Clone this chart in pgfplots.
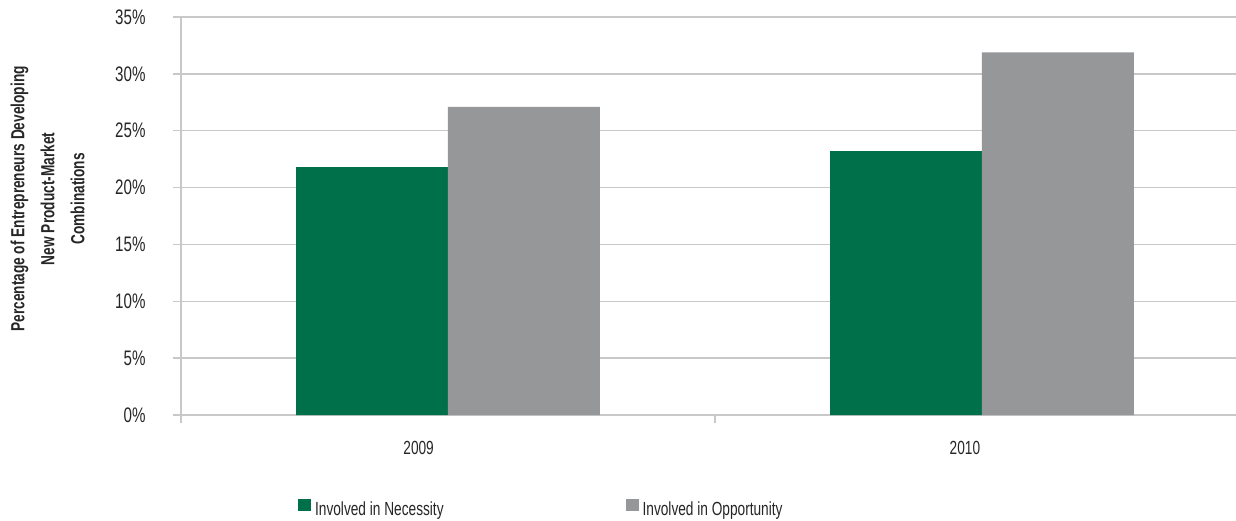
\documentclass[border=0pt]{standalone}
\usepackage{fontspec}
\setmainfont{Liberation Sans}[FakeStretch=0.72]
\usepackage{pgfplots}
\pgfplotsset{compat=1.18}
\definecolor{necgreen}{RGB}{0,112,74}
\definecolor{oppgray}{RGB}{150,151,153}
\definecolor{gridgray}{RGB}{200,200,200}
\begin{document}
\begin{tikzpicture}
\path[use as bounding box] (-181pt,-105pt) rectangle (1055pt,415pt);
\begin{axis}[
  at={(0pt,0pt)}, anchor=south west,
  scale only axis, width=1055pt, height=398pt,
  xmin=0, xmax=1.9757, ymin=0, ymax=35,
  axis x line*=bottom, axis y line*=left,
  axis line style={gridgray, line width=1.3pt, -},
  ytick={0,5,10,15,20,25,30,35},
  yticklabels={0\%,5\%,10\%,15\%,20\%,25\%,30\%,35\%},
  ymajorgrids, grid style={gridgray, line width=1.3pt},
  tick align=outside,
  tick style={gridgray, line width=1.3pt},
  major tick length=8pt,
  xtick={0,1},
  xticklabels={},
  extra x ticks={0.445,1.468},
  extra x tick labels={2009,2010},
  extra x tick style={major tick length=0pt, grid=none,
    xticklabel style={yshift=-23pt, font=\fontsize{19}{20}\selectfont}},
  yticklabel style={xshift=-24pt, font=\fontsize{21}{22}\selectfont},
  tick label style={text=black!85},
  ylabel={Percentage of Entrepreneurs Developing\\New Product-Market\\Combinations},
  ylabel style={at={(rel axis cs:-0.088,0.543)}, anchor=south, align=center,
    font=\fontsize{19}{30}\selectfont\bfseries, text=black!85},
  legend style={at={(rel axis cs:0.108,-0.236)}, anchor=west, draw=none,
    font=\fontsize{19}{20}\selectfont, text=black!85,
    nodes={inner xsep=4pt},
    /tikz/every even column/.append style={column sep=178pt}},
  legend columns=2,
  legend image code/.code={\fill[#1] (0pt,-1pt) rectangle (13pt,11pt);},
]
\addplot[ybar, bar shift=0pt, bar width=152pt, fill=necgreen, draw=none]
  coordinates {(0.3577,21.8) (1.3577,23.2)};
\addplot[ybar, bar shift=0pt, bar width=152pt, fill=oppgray, draw=none]
  coordinates {(0.6423,27.1) (1.6423,31.9)};
\legend{Involved in Necessity, Involved in Opportunity}
\end{axis}
\end{tikzpicture}
\end{document}
